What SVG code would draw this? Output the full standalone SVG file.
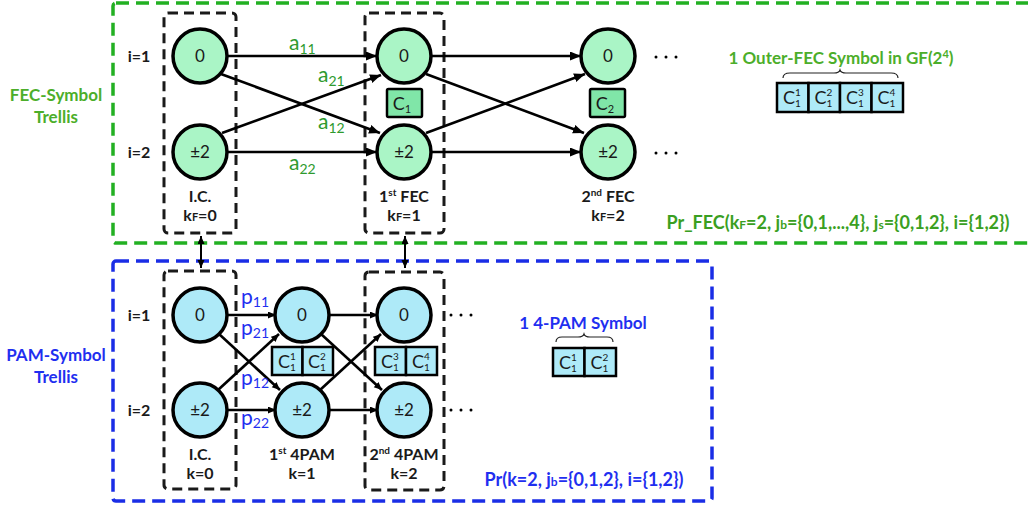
<svg xmlns="http://www.w3.org/2000/svg" width="1028" height="506" viewBox="0 0 1028 506">
  <defs>
    <marker id="arr" markerUnits="userSpaceOnUse" markerWidth="12" markerHeight="10" refX="11" refY="4.5" orient="auto-start-reverse">
      <path d="M0,0 L11,4.5 L0,9 Z" fill="#000"/>
    </marker>
    <marker id="arrS" markerUnits="userSpaceOnUse" markerWidth="9" markerHeight="8" refX="8" refY="3.5" orient="auto-start-reverse">
      <path d="M0,0 L8,3.5 L0,7 Z" fill="#000"/>
    </marker>
  </defs>
  <style>
    .lbl { font-family: Lato, "Liberation Sans", sans-serif; font-weight: bold; font-size: 16px; fill: #1a1a1a; text-anchor: middle; }
    .row { font-family: Lato, "Liberation Sans", sans-serif; font-weight: bold; font-size: 16px; fill: #1a1a1a; text-anchor: middle; }
    .node text { font-family: Lato, "Liberation Sans", sans-serif; font-size: 17px; fill: #1a1a1a; text-anchor: middle; }
    .fecN circle { fill: #aaf5c6; stroke: #000; stroke-width: 3.5; }
    .pamN circle { fill: #aeeaf8; stroke: #000; stroke-width: 3.5; }
    .stage { fill: none; stroke: #1a1a1a; stroke-width: 3; stroke-dasharray: 10 6; }
    .gbox { fill: none; stroke: #22b022; stroke-width: 3.5; stroke-dasharray: 13 7; }
    .bbox { fill: none; stroke: #1a2de6; stroke-width: 3.5; stroke-dasharray: 13 7; }
    .edge { stroke: #000; stroke-width: 2.6; fill: none; marker-end: url(#arr); }
    .pedge { stroke: #000; stroke-width: 2.6; fill: none; marker-end: url(#arrS); }
    .link { stroke: #000; stroke-width: 2; fill: none; marker-start: url(#arrS); marker-end: url(#arrS); }
    .cg { fill: #80e6a8; stroke: #000; stroke-width: 2.5; }
    .cb { fill: #aeeaf8; stroke: #000; stroke-width: 2.5; }
    .ct { font-family: Lato, "Liberation Sans", sans-serif; font-size: 18px; fill: #1a1a1a; text-anchor: middle; }
    .cs { font-family: Lato, "Liberation Sans", sans-serif; font-size: 10px; fill: #1a1a1a; text-anchor: start; }
    .gt { font-family: Lato, "Liberation Sans", sans-serif; font-weight: bold; font-size: 17px; fill: #4cae2a; text-anchor: middle; }
    .gp { font-family: Lato, "Liberation Sans", sans-serif; font-weight: bold; font-size: 18px; fill: #3a9f22; text-anchor: middle; }
    .bt { font-family: Lato, "Liberation Sans", sans-serif; font-weight: bold; font-size: 17px; fill: #1f2ff0; text-anchor: middle; }
    .bp { font-family: Lato, "Liberation Sans", sans-serif; font-weight: bold; font-size: 18px; fill: #1f2ff0; text-anchor: middle; }
    .al { font-family: Lato, "Liberation Sans", sans-serif; font-size: 21px; fill: #2e9a2e; }
    .pl { font-family: Lato, "Liberation Sans", sans-serif; font-size: 21px; fill: #1f2ff0; }
    .dots { fill: #000; }
    .brace { fill: none; stroke: #222; stroke-width: 1.2; }
  </style>

  <!-- outer trellis frames -->
  <g id="fec-frame">
    <rect class="gbox" x="113" y="3" width="920" height="240" rx="3"/>
    <text class="gt" x="56" y="101">FEC-Symbol</text>
    <text class="gt" x="56" y="123">Trellis</text>
  </g>
  <g id="pam-frame">
    <rect class="bbox" x="113" y="261" width="599" height="240" rx="3"/>
    <text class="bt" x="56" y="361">PAM-Symbol</text>
    <text class="bt" x="56" y="383">Trellis</text>
  </g>

  <!-- stage frames -->
  <g id="stages">
    <rect class="stage" x="164" y="13" width="72" height="220" rx="4"/>
    <rect class="stage" x="365" y="13" width="79" height="220" rx="4"/>
    <rect class="stage" x="164" y="271" width="72" height="218" rx="4"/>
    <rect class="stage" x="365" y="272" width="79" height="218" rx="4"/>
  </g>

  <!-- row labels -->
  <g id="row-labels">
    <text class="row" x="139" y="62">i=1</text>
    <text class="row" x="139" y="158">i=2</text>
    <text class="row" x="139" y="321">i=1</text>
    <text class="row" x="139" y="416">i=2</text>
  </g>

  <!-- connectors -->
  <g id="connectors">
    <!-- FEC trellis, stage 0 to 1 -->
    <line class="edge" x1="227" y1="56" x2="377" y2="56"/>
    <line class="edge" x1="227" y1="152" x2="377" y2="152"/>
    <line class="edge" x1="221" y1="74" x2="380" y2="133"/>
    <line class="edge" x1="222" y1="133" x2="381" y2="75"/>
    <!-- FEC trellis, stage 1 to 2 -->
    <line class="edge" x1="431" y1="56" x2="581" y2="56"/>
    <line class="edge" x1="431" y1="152" x2="581" y2="152"/>
    <line class="edge" x1="426" y1="74" x2="584" y2="133"/>
    <line class="edge" x1="426" y1="133" x2="585" y2="74"/>
    <!-- PAM trellis, stage 0 to 1 -->
    <line class="pedge" x1="227" y1="315" x2="276" y2="315"/>
    <line class="pedge" x1="227" y1="410" x2="276" y2="410"/>
    <line class="pedge" x1="219" y1="334" x2="280" y2="390"/>
    <line class="pedge" x1="218" y1="390" x2="279" y2="334"/>
    <!-- PAM trellis, stage 1 to 2 -->
    <line class="pedge" x1="329" y1="315" x2="378" y2="315"/>
    <line class="pedge" x1="329" y1="410" x2="378" y2="410"/>
    <line class="pedge" x1="321" y1="334" x2="382" y2="390"/>
    <line class="pedge" x1="320" y1="390" x2="381" y2="334"/>
    <!-- links between the two trellises -->
    <line class="link" x1="201" y1="236" x2="201" y2="268"/>
    <line class="link" x1="405" y1="236" x2="405" y2="268"/>
  </g>

  <!-- branch labels -->
  <g id="branch-labels">
    <text class="al" x="289" y="50">a<tspan font-size="14" dy="4">11</tspan></text>
    <text class="al" x="318" y="82">a<tspan font-size="14" dy="4">21</tspan></text>
    <text class="al" x="318" y="129">a<tspan font-size="14" dy="4">12</tspan></text>
    <text class="al" x="289" y="170">a<tspan font-size="14" dy="4">22</tspan></text>
    <text class="pl" x="241" y="304">p<tspan font-size="14" dy="3">11</tspan></text>
    <text class="pl" x="241" y="335">p<tspan font-size="14" dy="3">21</tspan></text>
    <text class="pl" x="241" y="385">p<tspan font-size="14" dy="3">12</tspan></text>
    <text class="pl" x="241" y="425">p<tspan font-size="14" dy="3">22</tspan></text>
  </g>

  <!-- FEC trellis nodes -->
  <g id="fec-k0-i1" class="node fecN"><circle cx="200" cy="56" r="27"/><text x="200" y="62">0</text></g>
  <g id="fec-k0-i2" class="node fecN"><circle cx="200" cy="152" r="27"/><text x="200" y="158">±2</text></g>
  <g id="fec-k1-i1" class="node fecN"><circle cx="404" cy="56" r="27"/><text x="404" y="62">0</text></g>
  <g id="fec-k1-i2" class="node fecN"><circle cx="404" cy="152" r="27"/><text x="404" y="158">±2</text></g>
  <g id="fec-k2-i1" class="node fecN"><circle cx="608" cy="56" r="27"/><text x="608" y="62">0</text></g>
  <g id="fec-k2-i2" class="node fecN"><circle cx="608" cy="152" r="27"/><text x="608" y="158">±2</text></g>

  <!-- PAM trellis nodes -->
  <g id="pam-k0-i1" class="node pamN"><circle cx="200" cy="315" r="27"/><text x="200" y="321">0</text></g>
  <g id="pam-k0-i2" class="node pamN"><circle cx="200" cy="410" r="27"/><text x="200" y="416">±2</text></g>
  <g id="pam-k1-i1" class="node pamN"><circle cx="302" cy="315" r="27"/><text x="302" y="321">0</text></g>
  <g id="pam-k1-i2" class="node pamN"><circle cx="302" cy="410" r="27"/><text x="302" y="416">±2</text></g>
  <g id="pam-k2-i1" class="node pamN"><circle cx="404" cy="315" r="27"/><text x="404" y="321">0</text></g>
  <g id="pam-k2-i2" class="node pamN"><circle cx="404" cy="410" r="27"/><text x="404" y="416">±2</text></g>

  <!-- continuation dots -->
  <g id="continuation">
    <circle class="dots" cx="656" cy="57" r="1.5"/><circle class="dots" cx="666" cy="57" r="1.5"/><circle class="dots" cx="676" cy="57" r="1.5"/>
    <circle class="dots" cx="656" cy="153" r="1.5"/><circle class="dots" cx="666" cy="153" r="1.5"/><circle class="dots" cx="676" cy="153" r="1.5"/>
    <circle class="dots" cx="451" cy="315" r="1.5"/><circle class="dots" cx="461" cy="315" r="1.5"/><circle class="dots" cx="471" cy="315" r="1.5"/>
    <circle class="dots" cx="451" cy="410" r="1.5"/><circle class="dots" cx="461" cy="410" r="1.5"/><circle class="dots" cx="471" cy="410" r="1.5"/>
  </g>

  <!-- FEC symbols per stage -->
  <g id="fec-sym-c1">
    <rect class="cg" x="387" y="89" width="35" height="28" rx="1.5"/>
    <text class="ct" x="402" y="110">C<tspan font-size="11" dy="3">1</tspan></text>
  </g>
  <g id="fec-sym-c2">
    <rect class="cg" x="590" y="89" width="35" height="28" rx="1.5"/>
    <text class="ct" x="605" y="110">C<tspan font-size="11" dy="3">2</tspan></text>
  </g>

  <!-- stage captions -->
  <g id="captions">
    <text class="lbl" x="200" y="202">I.C.</text>
    <text class="lbl" x="200" y="221">k<tspan font-size="11">F</tspan>=0</text>
    <text class="lbl" x="404" y="202">1<tspan font-size="10" dy="-6">st</tspan><tspan dy="6"> FEC</tspan></text>
    <text class="lbl" x="404" y="221">k<tspan font-size="11">F</tspan>=1</text>
    <text class="lbl" x="608" y="202">2<tspan font-size="10" dy="-6">nd</tspan><tspan dy="6"> FEC</tspan></text>
    <text class="lbl" x="608" y="221">k<tspan font-size="11">F</tspan>=2</text>
    <text class="lbl" x="200" y="460">I.C.</text>
    <text class="lbl" x="200" y="479">k=0</text>
    <text class="lbl" x="302" y="460">1<tspan font-size="10" dy="-6">st</tspan><tspan dy="6"> 4PAM</tspan></text>
    <text class="lbl" x="302" y="479">k=1</text>
    <text class="lbl" x="404" y="460">2<tspan font-size="10" dy="-6">nd</tspan><tspan dy="6"> 4PAM</tspan></text>
    <text class="lbl" x="404" y="479">k=2</text>
  </g>

  <!-- PAM symbol bit pairs in the trellis -->
  <g id="pam-bits-k1">
    <rect class="cb" x="272" y="347" width="30.5" height="28"/>
    <rect class="cb" x="302.5" y="347" width="30.5" height="28"/>
    <text class="ct" x="284" y="368">C</text><text class="cs" x="290" y="360">1</text><text class="cs" x="290" y="371">1</text>
    <text class="ct" x="314" y="368">C</text><text class="cs" x="320" y="360">2</text><text class="cs" x="320" y="371">1</text>
  </g>
  <g id="pam-bits-k2">
    <rect class="cb" x="375" y="347" width="31" height="28"/>
    <rect class="cb" x="406" y="347" width="31" height="28"/>
    <text class="ct" x="387" y="368">C</text><text class="cs" x="393" y="360">3</text><text class="cs" x="393" y="371">1</text>
    <text class="ct" x="418" y="368">C</text><text class="cs" x="424" y="360">4</text><text class="cs" x="424" y="371">1</text>
  </g>

  <!-- legend: one outer-FEC symbol -->
  <g id="fec-legend">
    <text class="gt" x="841" y="64">1 Outer-FEC Symbol in GF(2<tspan font-size="11" dy="-6">4</tspan><tspan dy="6">)</tspan></text>
    <path class="brace" d="M783,78 Q783,73 790,73 L834,73 Q839,73 840,70 Q841,73 846,73 L891,73 Q898,73 898,78"/>
    <rect class="cb" x="777" y="83" width="31.5" height="29"/>
    <rect class="cb" x="808.5" y="83" width="31.5" height="29"/>
    <rect class="cb" x="840" y="83" width="31.5" height="29"/>
    <rect class="cb" x="871.5" y="83" width="31.5" height="29"/>
    <text class="ct" x="789" y="104">C</text><text class="cs" x="795" y="96">1</text><text class="cs" x="795" y="107">1</text>
    <text class="ct" x="820.5" y="104">C</text><text class="cs" x="826.5" y="96">2</text><text class="cs" x="826.5" y="107">1</text>
    <text class="ct" x="852" y="104">C</text><text class="cs" x="858" y="96">3</text><text class="cs" x="858" y="107">1</text>
    <text class="ct" x="883.5" y="104">C</text><text class="cs" x="889.5" y="96">4</text><text class="cs" x="889.5" y="107">1</text>
  </g>
  <g id="fec-prob">
    <text class="gp" x="838" y="229">Pr_FEC(k<tspan font-size="12">F</tspan>=2, j<tspan font-size="12">b</tspan>={0,1,...,4}, j<tspan font-size="12">s</tspan>={0,1,2}, i={1,2})</text>
  </g>

  <!-- legend: one 4-PAM symbol -->
  <g id="pam-legend">
    <text class="bt" x="583" y="329">1 4-PAM Symbol</text>
    <path class="brace" d="M556,342 Q556,337 562,337 L578,337 Q583,337 584,334 Q585,337 590,337 L607,337 Q613,337 613,342"/>
    <rect class="cb" x="553" y="348" width="31.5" height="28"/>
    <rect class="cb" x="584.5" y="348" width="31.5" height="28"/>
    <text class="ct" x="565" y="369">C</text><text class="cs" x="571" y="361">1</text><text class="cs" x="571" y="372">1</text>
    <text class="ct" x="596.5" y="369">C</text><text class="cs" x="602.5" y="361">2</text><text class="cs" x="602.5" y="372">1</text>
  </g>
  <g id="pam-prob">
    <text class="bp" x="584" y="486">Pr(k=2, j<tspan font-size="12">b</tspan>={0,1,2}, i={1,2})</text>
  </g>
</svg>
